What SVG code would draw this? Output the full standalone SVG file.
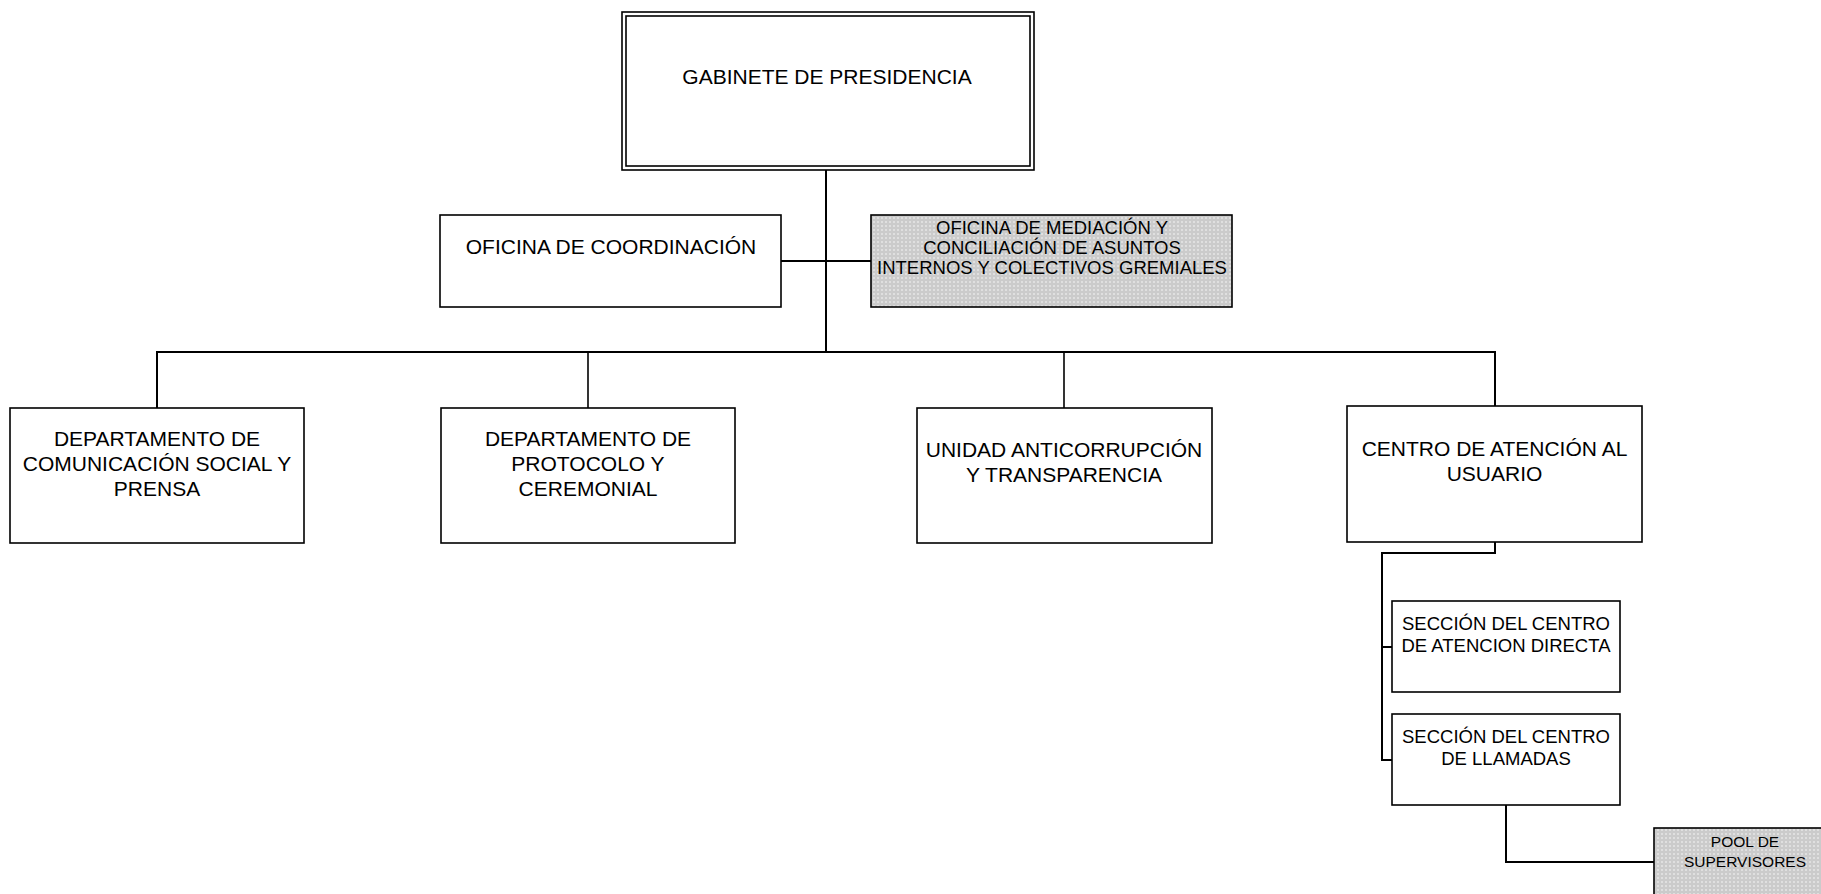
<svg xmlns="http://www.w3.org/2000/svg" width="1821" height="894" viewBox="0 0 1821 894">
<style>
.box{fill:#fff;stroke:#000;stroke-width:1.6}
.shade{fill:url(#dots);stroke:#000;stroke-width:1.6}
.t{font-family:"Liberation Sans",Arial,sans-serif;font-size:21px;fill:#000;text-anchor:middle}
.ts{font-family:"Liberation Sans",Arial,sans-serif;font-size:18.5px;fill:#000;text-anchor:middle}
.tp{font-family:"Liberation Sans",Arial,sans-serif;font-size:15.5px;fill:#000;text-anchor:middle}
.c{fill:none;stroke:#000;stroke-width:2}
.c2{fill:none;stroke:#000;stroke-width:1.6}
</style>
<defs>
<pattern id="dots" width="4" height="4" patternUnits="userSpaceOnUse">
<rect width="4" height="4" fill="#cbcbcb"/>
<circle cx="2" cy="2" r="1.1" fill="#e4e4e4"/>
</pattern>
</defs>
<rect width="1821" height="894" fill="#fff"/>
<g id="connectors">
<path class="c" d="M826 170 V352"/>
<path class="c" d="M781 261 H871"/>
<path class="c" d="M157 408 V352 H1495 V406"/>
<path class="c2" d="M588 352 V408"/>
<path class="c2" d="M1064 352 V408"/>
<path class="c" d="M1495 542 V553 H1382 V760 H1392"/>
<path class="c" d="M1382 647 H1392"/>
<path class="c" d="M1506 805 V862 H1654"/>
</g>
<g id="gabinete">
<rect class="box" x="622" y="12" width="412" height="158"/>
<rect class="box" x="626" y="16" width="404" height="150"/>
<text class="t" x="827" y="84">GABINETE DE PRESIDENCIA</text>
</g>
<g id="oficina-coordinacion">
<rect class="box" x="440" y="215" width="341" height="92"/>
<text class="t" x="611" y="254">OFICINA DE COORDINACIÓN</text>
</g>
<g id="oficina-mediacion">
<rect class="shade" x="871" y="215" width="361" height="92"/>
<text class="ts" x="1052" y="234">OFICINA DE MEDIACIÓN Y</text>
<text class="ts" x="1052" y="254">CONCILIACIÓN DE ASUNTOS</text>
<text class="ts" x="1052" y="274">INTERNOS Y COLECTIVOS GREMIALES</text>
</g>
<g id="dep-comunicacion">
<rect class="box" x="10" y="408" width="294" height="135"/>
<text class="t" x="157" y="446">DEPARTAMENTO DE</text>
<text class="t" x="157" y="471">COMUNICACIÓN SOCIAL Y</text>
<text class="t" x="157" y="496">PRENSA</text>
</g>
<g id="dep-protocolo">
<rect class="box" x="441" y="408" width="294" height="135"/>
<text class="t" x="588" y="446">DEPARTAMENTO DE</text>
<text class="t" x="588" y="471">PROTOCOLO Y</text>
<text class="t" x="588" y="496">CEREMONIAL</text>
</g>
<g id="unidad-anticorrupcion">
<rect class="box" x="917" y="408" width="295" height="135"/>
<text class="t" x="1064" y="457">UNIDAD ANTICORRUPCIÓN</text>
<text class="t" x="1064" y="482">Y TRANSPARENCIA</text>
</g>
<g id="centro-atencion">
<rect class="box" x="1347" y="406" width="295" height="136"/>
<text class="t" x="1494.5" y="456">CENTRO DE ATENCIÓN AL</text>
<text class="t" x="1494.5" y="481">USUARIO</text>
</g>
<g id="seccion-atencion-directa">
<rect class="box" x="1392" y="601" width="228" height="91"/>
<text class="ts" x="1506" y="630">SECCIÓN DEL CENTRO</text>
<text class="ts" x="1506" y="652">DE ATENCION DIRECTA</text>
</g>
<g id="seccion-llamadas">
<rect class="box" x="1392" y="714" width="228" height="91"/>
<text class="ts" x="1506" y="743">SECCIÓN DEL CENTRO</text>
<text class="ts" x="1506" y="765">DE LLAMADAS</text>
</g>
<g id="pool-supervisores">
<rect class="shade" x="1654" y="828" width="180" height="80"/>
<text class="tp" x="1745" y="847">POOL DE</text>
<text class="tp" x="1745" y="867">SUPERVISORES</text>
</g>
</svg>
